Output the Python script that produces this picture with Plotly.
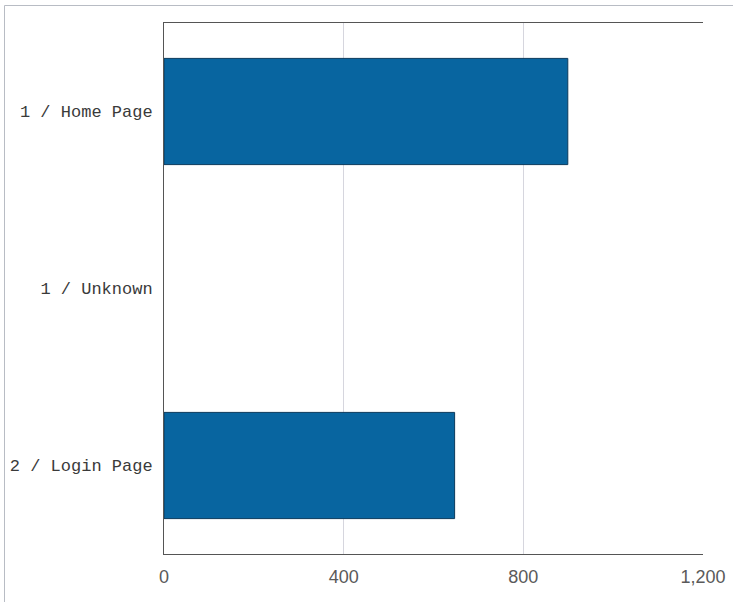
import plotly.graph_objects as go

categories = ["1 / Home Page", "1 / Unknown", "2 / Login Page"]
values = [899, 0, 647]
x_ticks = [0, 400, 800, 1200]
x_tick_labels = ["0", "400", "800", "1,200"]

W, H = 733, 602
L, R, T, B = 164, 30, 23, 48
pw, ph = W - L - R, H - T - B

fig = go.Figure(
    go.Bar(
        y=categories,
        x=values,
        orientation="h",
        marker=dict(color="#0865a0",
                    line=dict(color="#0b3a5c", width=[0 if v == 0 else 1 for v in values])),
        width=0.6,
        hoverinfo="x+y",
    )
)

def px(xp):
    return (xp - L) / pw

def py(yp):
    return 1 - (yp - T) / ph

fig.update_layout(
    width=W,
    height=H,
    autosize=False,
    margin=dict(l=L, r=R, t=T, b=B, pad=0, autoexpand=False),
    paper_bgcolor="white",
    plot_bgcolor="white",
    showlegend=False,
    xaxis=dict(
        range=[0, 1200],
        tickvals=x_ticks,
        ticktext=x_tick_labels,
        showgrid=True,
        gridcolor="#d6d6de",
        gridwidth=1,
        zeroline=False,
        showline=True,
        linecolor="#555555",
        linewidth=1,
        mirror=True,
        ticks="",
        automargin=False,
        tickfont=dict(family="Liberation Sans, Arial, sans-serif", size=18, color="#5a5a5a"),
        ticklabelstandoff=6,
    ),
    yaxis=dict(
        categoryorder="array",
        categoryarray=categories,
        autorange="reversed",
        showgrid=False,
        zeroline=False,
        showline=True,
        linecolor="#555555",
        linewidth=1,
        ticks="",
        automargin=False,
        tickfont=dict(family="Liberation Mono, Courier New, monospace", size=17, color="#3a3a3a"),
        ticklabelstandoff=7,
    ),
    shapes=[
        dict(type="line", xref="paper", yref="paper",
             x0=px(4.5), x1=px(W), y0=py(5.5), y1=py(5.5),
             line=dict(color="#b8bcc4", width=1)),
        dict(type="line", xref="paper", yref="paper",
             x0=px(4.5), x1=px(4.5), y0=py(5.5), y1=py(H),
             line=dict(color="#b8bcc4", width=1)),
    ],
)

fig.write_html(
    "out.html",
    config={"displayModeBar": False},
    post_script="document.body.style.margin='0';document.body.style.overflow='hidden';",
)
